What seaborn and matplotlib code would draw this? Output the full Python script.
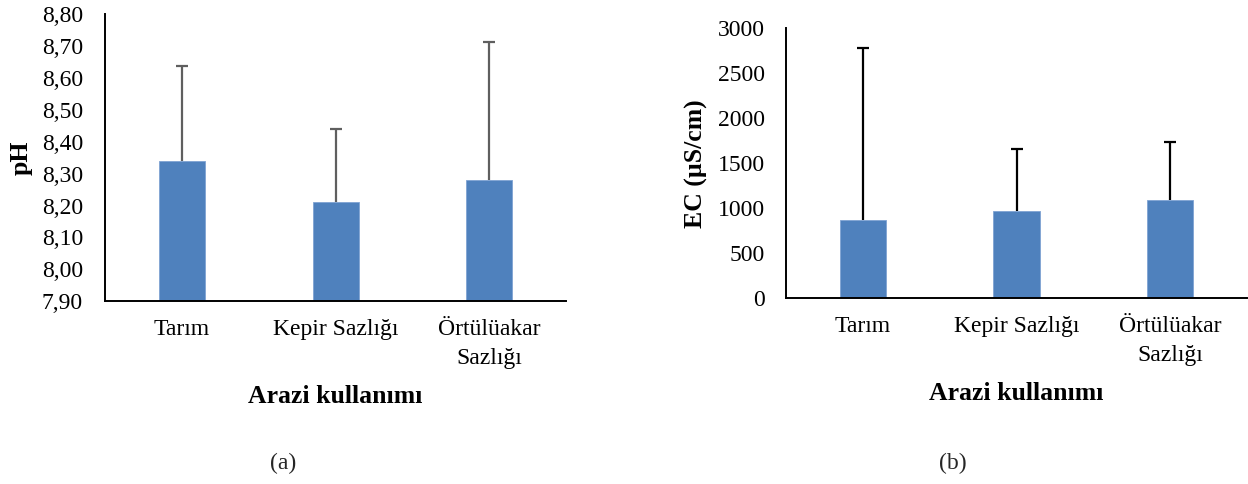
import matplotlib
matplotlib.use("Agg")
import matplotlib.pyplot as plt
import seaborn as sns
import pandas as pd
import numpy as np
from matplotlib.ticker import FixedLocator, FuncFormatter

# ---- data ----
categories = ["Tarım", "Kepir Sazlığı", "Örtülüakar\nSazlığı"]
ph_mean = [8.34, 8.21, 8.28]
ph_sd = [0.297, 0.231, 0.433]
ec_mean = [867, 973, 1096]
ec_sd = [1911, 689, 641]
ph_ticks = [7.90, 8.00, 8.10, 8.20, 8.30, 8.40, 8.50, 8.60, 8.70, 8.80]
ec_ticks = [0, 500, 1000, 1500, 2000, 2500, 3000]
xlabel_text = "Arazi kullanımı"
ph_label = "pH"
ec_label = "EC (µS/cm)"
panel_tags = ["(a)", "(b)"]

sns.set_theme(style="white")
plt.rcParams["font.family"] = ["Liberation Serif", "DejaVu Serif"]

BAR = "#4F81BD"
W, H = 1248, 484
fig = plt.figure(figsize=(W / 100, H / 100), dpi=100)

def px_axes(x0, y0, x1, y1):
    return fig.add_axes([x0 / W, 1 - y1 / H, (x1 - x0) / W, (y1 - y0) / H])

ax1 = px_axes(105.3, 14.0, 565.8, 301.3)
ax2 = px_axes(786.0, 28.3, 1247.0, 298.3)

df_ph = pd.DataFrame({"cat": categories, "val": ph_mean})
df_ec = pd.DataFrame({"cat": categories, "val": ec_mean})

def draw(ax, df, sd, ecolor, ticks, fmt, ylab, ylab_x, pad):
    sns.barplot(data=df, x="cat", y="val", ax=ax, color=BAR, width=0.30,
                errorbar=None, saturation=1, edgecolor="#7fa3d3", linewidth=0.6)
    xs = np.arange(len(df))
    _, caps, _ = ax.errorbar(xs, df["val"], yerr=[np.zeros(len(sd)), sd], fmt="none",
                             ecolor=ecolor, elinewidth=1.6, capsize=4.4, capthick=1.6,
                             zorder=5)
    caps[0].set_visible(False)  # only upper caps
    ax.set_xlim(-0.5, len(df) - 0.5)
    ax.set_ylim(ticks[0], ticks[-1])
    ax.yaxis.set_major_locator(FixedLocator(ticks))
    ax.yaxis.set_major_formatter(FuncFormatter(fmt))
    for s in ["top", "right"]:
        ax.spines[s].set_visible(False)
    for s in ["left", "bottom"]:
        ax.spines[s].set_color("black")
        ax.spines[s].set_linewidth(1.4)
    ax.tick_params(axis="y", length=0, pad=pad, labelsize=17, colors="black")
    ax.tick_params(axis="x", length=0, pad=13, labelsize=17, colors="black")
    for t in ax.get_xticklabels():
        t.set_linespacing(1.5)
    ax.set_ylabel(ylab, fontsize=18.5, fontweight="bold", color="black")
    ax.yaxis.label.set_va("center")
    ax.yaxis.set_label_coords(ylab_x, 0.5)
    ax.set_xlabel(xlabel_text, fontsize=18.5, fontweight="bold", color="black")
    ax.xaxis.label.set_va("center")
    ax.set_facecolor("white")

draw(ax1, df_ph, ph_sd, "#5f5f5f", ph_ticks,
     lambda v, p: f"{v:.2f}".replace(".", ","), ph_label, (21 - 105.3) / 460.5, 16)
draw(ax2, df_ec, ec_sd, "black", ec_ticks,
     lambda v, p: f"{v:.0f}", ec_label, (696 - 786) / 461.0, 15)

ax1.xaxis.set_label_coords(0.5, -(396.5 - 301.3) / 287.3)
ax2.xaxis.set_label_coords(0.5, -(393.5 - 298.3) / 270.0)

fig.text(283 / W, 1 - 463 / H, panel_tags[0], fontsize=17, ha="center", va="center")
fig.text(953 / W, 1 - 463 / H, panel_tags[1], fontsize=17, ha="center", va="center")

fig.savefig("out.png", dpi=100, facecolor="white")
